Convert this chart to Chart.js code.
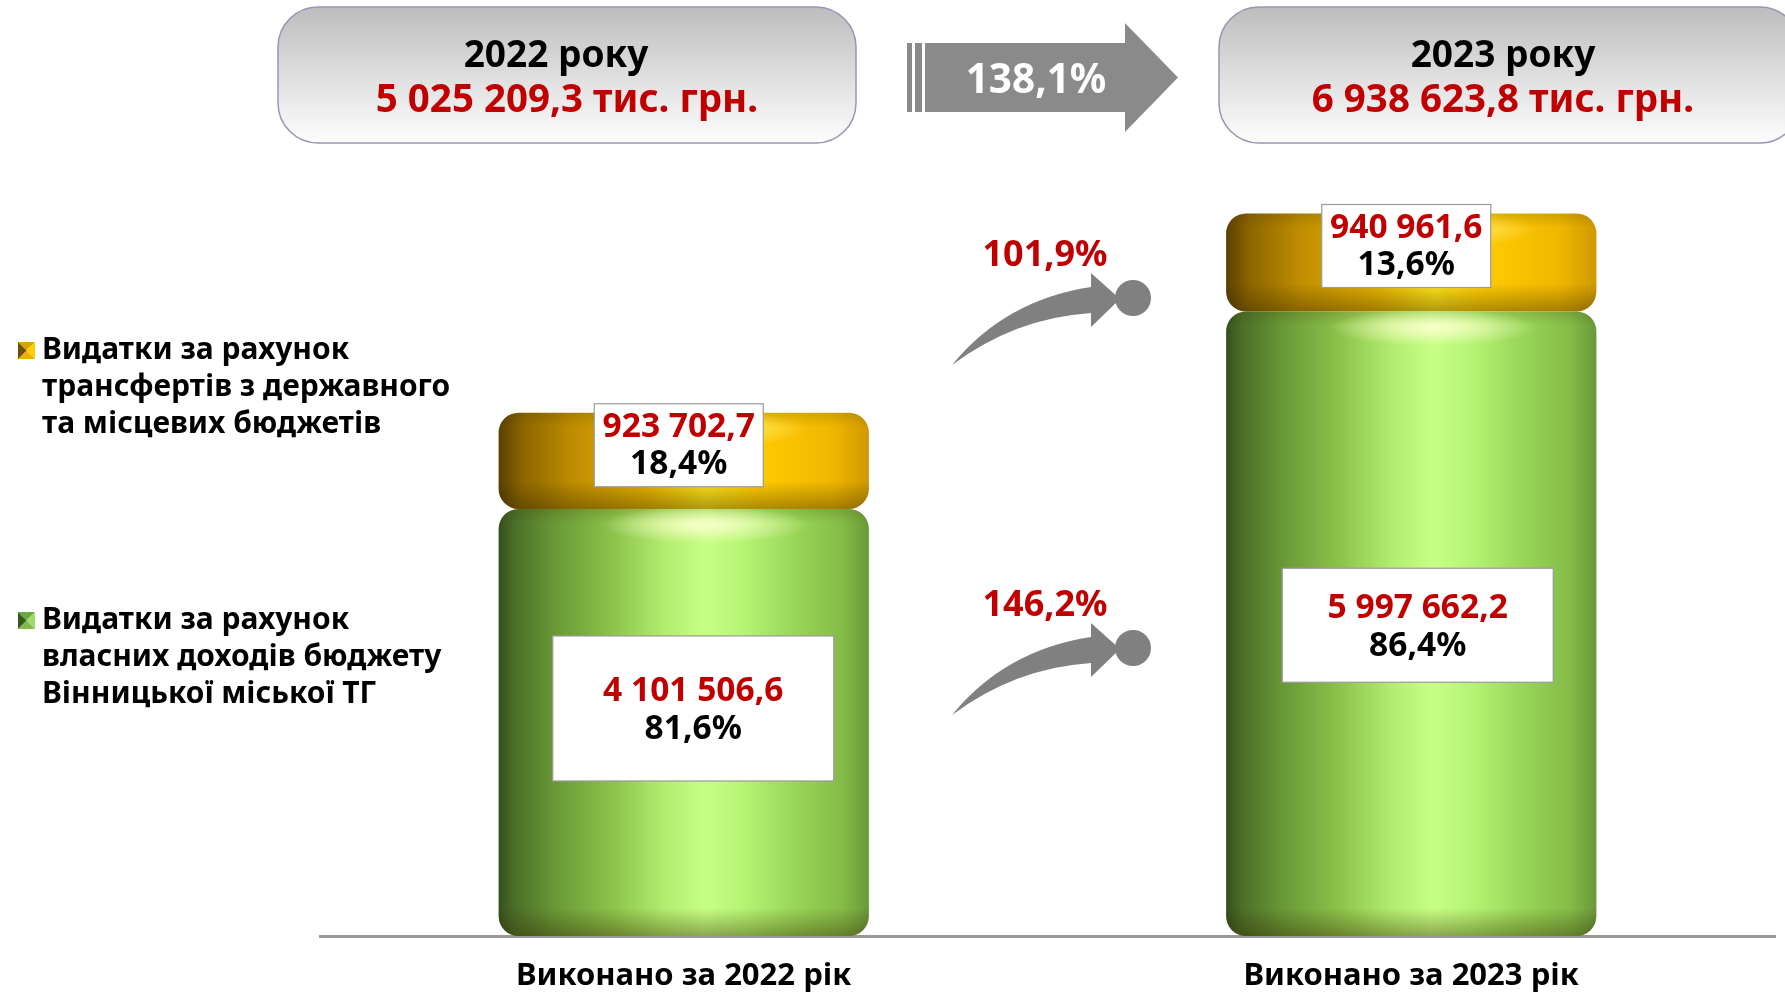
<!DOCTYPE html>
<html lang="uk">
<head>
<meta charset="utf-8">
<title>Видатки бюджету</title>
<script src="https://cdn.jsdelivr.net/npm/chart.js@4.4.1/dist/chart.umd.min.js"></script>
<style>
  html, body { margin: 0; padding: 0; background: #fff; }
  #budget { display: block; }
</style>
</head>
<body>
<canvas id="budget" width="1785" height="992"></canvas>
<script>
// дані
const categories = ["Виконано за 2022 рік", "Виконано за 2023 рік"];
const yearLabels = ["2022 року", "2023 року"];
const ownRevenue = [4101506.6, 5997662.2];   // власні доходи
const transfers = [923702.7, 940961.6];      // трансферти
const seriesNames = [
  ["Видатки за рахунок", "трансфертів з державного", "та місцевих бюджетів"],
  ["Видатки за рахунок", "власних доходів бюджету", "Вінницької міської ТГ"]
];
const yMax = 8000000;

const FONT = "'Noto Sans', 'DejaVu Sans', sans-serif";
const RED = "#c00000";

const fmt = (v) => {
  const [i, d] = v.toFixed(1).split(".");
  return i.replace(/\B(?=(\d{3})+(?!\d))/g, " ") + "," + d;
};
const pct = (v) => v.toFixed(1).replace(".", ",") + "%";

const totals = ownRevenue.map((v, i) => v + transfers[i]);

const greenStops = [
  [0, "#354f1d"], [0.04, "#4a6d27"], [0.15, "#689836"], [0.3, "#8bc049"],
  [0.45, "#b3ee6f"], [0.56, "#c7ff85"], [0.66, "#b6f474"], [0.8, "#99d657"],
  [0.93, "#84bb47"], [1, "#6a9838"]
];
const yellowStops = [
  [0, "#5a3f00"], [0.06, "#8a6400"], [0.2, "#bf8d00"], [0.4, "#e6b200"],
  [0.56, "#ffe41a"], [0.7, "#ffcb00"], [0.9, "#f0b700"], [1, "#cf9900"]
];

function barGradient(stops) {
  return (c) => {
    const chart = c.chart;
    const { chartArea, ctx } = chart;
    if (!chartArea || !chart.scales.x) return stops[3][1];
    const x = chart.scales.x.getPixelForValue(c.dataIndex);
    const w = chartArea.width / categories.length * 0.509;
    const g = ctx.createLinearGradient(x - w / 2, 0, x + w / 2, 0);
    stops.forEach(([o, col]) => g.addColorStop(o, col));
    return g;
  };
}

const radius = { topLeft: 20, topRight: 20, bottomLeft: 20, bottomRight: 20 };

// розміри білих підписів на зелених сегментах (як на слайді)
const greenBoxes = [{ dx: 9.5, w: 281, h: 145 }, { dx: 6.5, w: 271, h: 114 }];

function roundBox(ctx, x, y, w, h, r) {
  ctx.beginPath();
  ctx.roundRect(x, y, w, h, r);
}

function labelBox(ctx, cx, top, w, h, lines) {
  ctx.save();
  ctx.fillStyle = "#fff";
  ctx.strokeStyle = "#9a9a9a";
  ctx.lineWidth = 1.2;
  ctx.fillRect(cx - w / 2, top, w, h);
  ctx.strokeRect(cx - w / 2, top, w, h);
  ctx.textAlign = "center";
  ctx.textBaseline = "middle";
  lines.forEach(([text, color, dy]) => {
    ctx.font = "bold 33.5px " + FONT;
    ctx.fillStyle = color;
    ctx.fillText(text, cx, top + dy);
  });
  ctx.restore();
}

// шейдинг циліндрів
const shadePlugin = {
  id: "shade",
  afterDatasetsDraw(chart) {
    const ctx = chart.ctx;
    chart.data.datasets.forEach((ds, di) => {
      chart.getDatasetMeta(di).data.forEach((bar) => {
        const left = bar.x - bar.width / 2;
        const h = bar.base - bar.y;
        ctx.save();
        roundBox(ctx, left, bar.y, bar.width, h, 20);
        ctx.clip();
        // темніший низ
        const vg = ctx.createLinearGradient(0, bar.y, 0, bar.base);
        const edge = Math.min(0.35, 28 / h);
        vg.addColorStop(0, "rgba(60,50,0,0.18)");
        vg.addColorStop(edge * 0.5, "rgba(60,50,0,0)");
        vg.addColorStop(1 - edge, "rgba(50,40,0,0)");
        vg.addColorStop(1, "rgba(50,40,0,0.4)");
        ctx.fillStyle = vg;
        ctx.fillRect(left, bar.y, bar.width, h);
        // відблиск зверху
        const hx = left + bar.width * 0.56, hy = bar.y + 16;
        ctx.translate(hx, hy);
        ctx.scale(1, 0.18);
        const rg = ctx.createRadialGradient(0, 0, 0, 0, 0, bar.width * 0.28);
        rg.addColorStop(0, di === 0 ? "rgba(255,255,210,0.9)" : "rgba(255,255,120,0.7)");
        rg.addColorStop(1, "rgba(255,255,210,0)");
        ctx.fillStyle = rg;
        ctx.beginPath();
        ctx.arc(0, 0, bar.width * 0.28, 0, Math.PI * 2);
        ctx.fill();
        ctx.restore();
      });
    });
  }
};

function curvedArrow(ctx, dy) {
  ctx.save();
  ctx.fillStyle = "#808080";
  ctx.beginPath();
  ctx.moveTo(952, 365 + dy);
  ctx.quadraticCurveTo(1005, 300 + dy, 1091, 287 + dy);
  ctx.lineTo(1091, 273 + dy);
  ctx.lineTo(1120, 299 + dy);
  ctx.lineTo(1091, 327 + dy);
  ctx.lineTo(1091, 313 + dy);
  ctx.quadraticCurveTo(1015, 318 + dy, 952, 365 + dy);
  ctx.closePath();
  ctx.fill();
  ctx.beginPath();
  ctx.arc(1133, 298 + dy, 18, 0, Math.PI * 2);
  ctx.fill();
  ctx.restore();
}

function legendMarker(ctx, x, y, s, cols) {
  const c = [x + s / 2, y + s / 2];
  const pts = [[x, y], [x + s, y], [x + s, y + s], [x, y + s]];
  // top, right, bottom, left
  for (let k = 0; k < 4; k++) {
    ctx.beginPath();
    ctx.moveTo(pts[k][0], pts[k][1]);
    ctx.lineTo(pts[(k + 1) % 4][0], pts[(k + 1) % 4][1]);
    ctx.lineTo(c[0], c[1]);
    ctx.closePath();
    ctx.fillStyle = cols[k];
    ctx.fill();
  }
}

const decorPlugin = {
  id: "decor",
  afterDraw(chart) {
    const ctx = chart.ctx;
    ctx.save();

    // заголовкові блоки
    const boxes = [
      { x: 278, w: 578, c1: 556, c2: 567 },
      { x: 1219, w: 581, c1: 1503, c2: 1503 }
    ];
    boxes.forEach((b, i) => {
      const g = ctx.createLinearGradient(0, 7, 0, 143);
      g.addColorStop(0, "#bdbdbd");
      g.addColorStop(0.5, "#dedede");
      g.addColorStop(1, "#fdfdfd");
      roundBox(ctx, b.x, 7, b.w, 136, 40);
      ctx.fillStyle = g;
      ctx.fill();
      ctx.strokeStyle = "#9c94b4";
      ctx.lineWidth = 1.5;
      ctx.stroke();
      ctx.textAlign = "center";
      ctx.textBaseline = "middle";
      ctx.font = "bold 37px " + FONT;
      ctx.fillStyle = "#000";
      ctx.fillText(yearLabels[i], b.c1, 56);
      ctx.font = "bold 38.5px " + FONT;
      ctx.fillStyle = RED;
      ctx.fillText(fmt(totals[i]) + " тис. грн.", b.c2, 101);
    });

    // сіра стрілка темпу росту
    ctx.fillStyle = "#8a8a8a";
    ctx.fillRect(907, 43, 5, 69);
    ctx.fillRect(915, 43, 7, 69);
    ctx.beginPath();
    ctx.moveTo(925, 43);
    ctx.lineTo(1125, 43);
    ctx.lineTo(1125, 23);
    ctx.lineTo(1178, 77.5);
    ctx.lineTo(1125, 132);
    ctx.lineTo(1125, 112);
    ctx.lineTo(925, 112);
    ctx.closePath();
    ctx.fill();
    ctx.fillStyle = "#fff";
    ctx.font = "bold 40.5px " + FONT;
    ctx.textAlign = "center";
    ctx.textBaseline = "middle";
    ctx.fillText(pct(totals[1] / totals[0] * 100), 1036, 81);

    // вигнуті стрілки з темпами
    curvedArrow(ctx, 0);
    curvedArrow(ctx, 350);
    ctx.fillStyle = RED;
    ctx.font = "bold 36px " + FONT;
    ctx.fillText(pct(transfers[1] / transfers[0] * 100), 1045, 256);
    ctx.fillText(pct(ownRevenue[1] / ownRevenue[0] * 100), 1045, 606);

    // легенда
    const markers = [
      ["#d9a400", "#ffd000", "#e8b000", "#6e4e00"],
      ["#6da83f", "#9fdc66", "#7fba4a", "#355a1c"]
    ];
    const base = [359, 629];
    seriesNames.forEach((lines, i) => {
      legendMarker(ctx, 18, base[i] - 17, 17, markers[i]);
      ctx.fillStyle = "#000";
      ctx.font = "bold 30px " + FONT;
      ctx.textAlign = "left";
      ctx.textBaseline = "alphabetic";
      lines.forEach((t, k) => ctx.fillText(t, 42, base[i] + k * 37));
    });

    // підписи значень
    const green = chart.getDatasetMeta(0).data;
    const yellow = chart.getDatasetMeta(1).data;
    yellow.forEach((bar, j) => {
      labelBox(ctx, bar.x - 5, bar.y - 9, 169, 83, [
        [fmt(transfers[j]), RED, 24],
        [pct(transfers[j] / totals[j] * 100), "#000", 61]
      ]);
    });
    green.forEach((bar, j) => {
      const b = greenBoxes[j];
      const bottom = (bar.y + bar.base) / 2 + 58.5;
      const top = bottom - b.h;
      labelBox(ctx, bar.x + b.dx, top, b.w, b.h, [
        [fmt(ownRevenue[j]), RED, b.h / 2 - 17],
        [pct(ownRevenue[j] / totals[j] * 100), "#000", b.h / 2 + 21]
      ]);
    });

    ctx.restore();
  }
};

new Chart(document.getElementById("budget").getContext("2d"), {
  type: "bar",
  data: {
    labels: categories,
    datasets: [
      {
        label: seriesNames[1].join(" "),
        data: ownRevenue,
        backgroundColor: barGradient(greenStops),
        borderRadius: radius,
        borderSkipped: false,
        borderWidth: 0
      },
      {
        label: seriesNames[0].join(" "),
        data: transfers,
        backgroundColor: barGradient(yellowStops),
        borderRadius: radius,
        borderSkipped: false,
        borderWidth: 0
      }
    ]
  },
  options: {
    responsive: false,
    animation: false,
    categoryPercentage: 1,
    barPercentage: 0.509,
    layout: { padding: { left: 320, right: 10, top: 103, bottom: 0 } },
    plugins: {
      legend: { display: false },
      tooltip: { enabled: false }
    },
    scales: {
      x: {
        stacked: true,
        grid: { display: false, drawTicks: false },
        border: { color: "#999999", width: 3 },
        ticks: {
          color: "#000",
          padding: 22,
          font: { family: FONT, size: 31, weight: "bold" }
        },
        afterFit: (scale) => { scale.height = 56; }
      },
      y: {
        stacked: true,
        display: false,
        min: 0,
        max: yMax
      }
    }
  },
  plugins: [shadePlugin, decorPlugin]
});
</script>
</body>
</html>
